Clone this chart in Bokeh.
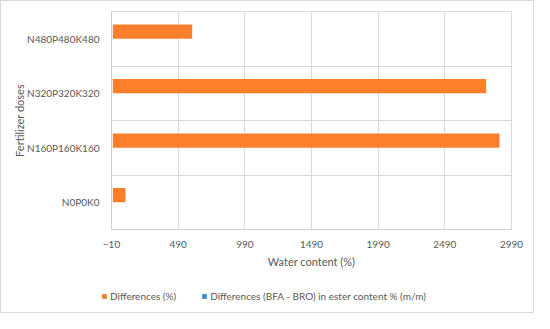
from bokeh.plotting import figure
from bokeh.layouts import column, row
from bokeh.models import Range1d, FixedTicker, Legend, LegendItem, ColumnDataSource
from bokeh.embed import file_html
from bokeh.resources import INLINE

categories = ["N0P0K0", "N160P160K160", "N320P320K320", "N480P480K480"]
diff_pct = [95, 2900, 2800, 595]
diff_ester = [0, 0, 0, 0]
x_ticks = [-10, 490, 990, 1490, 1990, 2490, 2990]
series_names = ["Differences (%)", "Differences (BFA - BRO) in ester content % (m/m)"]
colors = ["#fd7f2c", "#3a8dd0"]

FONT = "Lato"
TXT = "#595959"
GRID = "#d9d9d9"

ypos = list(range(len(categories)))
src = ColumnDataSource(dict(
    y1=[i + 0.13 for i in ypos],
    y2=[i - 0.13 for i in ypos],
    v1=diff_pct,
    v2=diff_ester,
))

p = figure(width=532, height=282, output_backend="svg", toolbar_location=None,
           x_range=Range1d(x_ticks[0], x_ticks[-1]), y_range=Range1d(-0.5, len(categories) - 0.5),
           min_border_left=110, min_border_right=22, min_border_top=10, min_border_bottom=54)
p.outline_line_color = GRID

p.hbar(y="y1", left=0, right="v1", height=0.26, source=src, color=colors[0], line_color=None)
p.hbar(y="y2", left=0, right="v2", height=0.26, source=src, color=colors[1], line_color=None)

p.xaxis.ticker = FixedTicker(ticks=x_ticks)
p.yaxis.ticker = FixedTicker(ticks=ypos)
p.yaxis.major_label_overrides = {i: c for i, c in enumerate(categories)}
p.xgrid.ticker = FixedTicker(ticks=x_ticks)
p.ygrid.ticker = FixedTicker(ticks=[i - 0.5 for i in range(len(categories) + 1)])
for g in (p.xgrid, p.ygrid):
    g.grid_line_color = GRID
    g.grid_line_width = 1

for ax in (p.xaxis, p.yaxis):
    ax.axis_line_color = "#cfcfcf"
    ax.major_tick_line_color = None
    ax.minor_tick_line_color = None
    ax.major_label_text_font = FONT
    ax.major_label_text_font_size = "10px"
    ax.major_label_text_color = TXT
    ax.axis_label_text_font = FONT
    ax.axis_label_text_font_size = "11px"
    ax.axis_label_text_color = TXT
    ax.axis_label_text_font_style = "normal"

p.xaxis.axis_label = "Water content (%)"
p.yaxis.axis_label = "Fertilizer doses"
p.xaxis.major_label_standoff = 5
p.xaxis.axis_label_standoff = 4
p.yaxis.major_label_standoff = 6
p.yaxis.axis_label_standoff = -2

# legend strip below the chart
p2 = figure(width=532, height=29, output_backend="svg", toolbar_location=None,
            x_range=Range1d(0, 1), y_range=Range1d(100, 101),
            x_axis_type=None, y_axis_type=None,
            min_border_left=0, min_border_right=0, min_border_top=0, min_border_bottom=0)
p2.outline_line_color = None
p2.xgrid.visible = False
p2.ygrid.visible = False
l1 = p2.hbar(y="y1", left=0, right="v1", height=0.26, source=src, color=colors[0], line_color=None)
l2 = p2.hbar(y="y2", left=0, right="v2", height=0.26, source=src, color=colors[1], line_color=None)

legend = Legend(items=[LegendItem(label=series_names[0], renderers=[l1]),
                       LegendItem(label=series_names[1], renderers=[l2])],
                orientation="horizontal", location=(100, 10),
                label_text_font=FONT, label_text_font_size="10px", label_text_color=TXT,
                glyph_width=6, glyph_height=6, spacing=25, label_standoff=3,
                label_height=12,
                border_line_color=None, background_fill_alpha=0, padding=0, margin=0)
p2.add_layout(legend, "center")

layout = column(p, row(p2, spacing=0), spacing=0, styles={"border": "1px solid #d9d9d9"})

open("out.html", "w").write(file_html(layout, INLINE))
